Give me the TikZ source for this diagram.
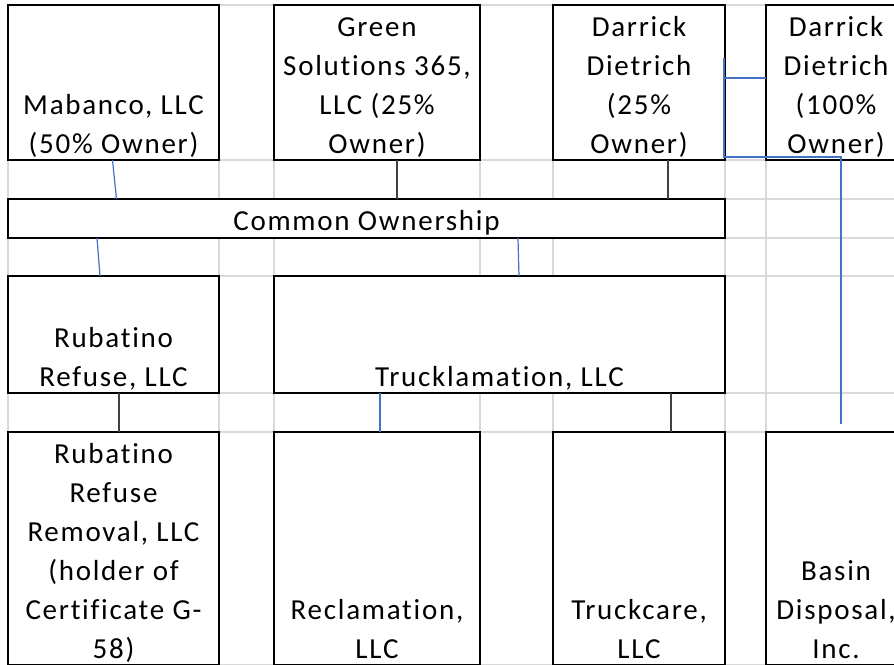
\documentclass[tikz,border=0pt]{standalone}
\usepackage{fontspec}
\setmainfont{Carlito}[LetterSpace=6,Ligatures={NoCommon}]
\usetikzlibrary{positioning}
\definecolor{gridgray}{RGB}{217,217,217}
\definecolor{xlblue}{RGB}{68,114,196}
\definecolor{xldark}{RGB}{64,64,64}
\newcommand\stk[1]{\begin{tabular}[b]{@{}c@{}}#1\end{tabular}}

\begin{document}
\begin{tikzpicture}[x=1pt, y=-1pt, node distance=55pt,
  box/.style = {draw, line width=2.2pt, fill=white, inner sep=0pt, outer sep=0pt, anchor=north west, text depth=7pt, font=\fontsize{29pt}{39pt}\selectfont},
  grid/.style = {draw=gridgray, line width=1.8pt},
  bline/.style = {draw=xlblue, line width=1.2pt},
  dline/.style = {draw=xldark, line width=1.2pt}]
    \useasboundingbox (0,0) rectangle (894,664);

    % sheet grid
    \foreach \x in {8,219,274,480,553,725,766}
        \draw[grid] (\x,5) -- (\x,665);
    \foreach \y in {5,160,199,238,276,393,432,665}
        \draw[grid] (8,\y) -- (894,\y);

    % owners
    \node[box, minimum width=211pt, text height=148pt] (mab) at (8,5) {\stk{Mabanco, LLC\\(50\% Owner)}};
    \node[box, minimum width=206pt, text height=148pt, right=55pt of mab] (gs) {\stk{Green\\Solutions 365,\\LLC (25\%\\Owner)}};
    \node[box, minimum width=172pt, text height=148pt, right=73pt of gs] (d25) {\stk{Darrick\\Dietrich\\(25\%\\Owner)}};
    \node[box, minimum width=140pt, text height=148pt, right=41pt of d25] (d100) {\stk{Darrick\\Dietrich\\(100\%\\Owner)}};

    \node[box, minimum width=717pt, text height=31pt, text depth=8pt] (own) at (8,199) {Common Ownership};

    % companies
    \node[box, minimum width=211pt, text height=110pt] (rr) at (8,276) {\stk{Rubatino\\Refuse, LLC}};
    \node[box, minimum width=451pt, text height=110pt, right=55pt of rr] (tk) {Trucklamation, LLC};

    \node[box, minimum width=211pt, text height=226pt] (rrr) at (8,432) {\stk{Rubatino\\Refuse\\Removal, LLC\\(holder of\\Certificate G-\\58)}};
    \node[box, minimum width=206pt, text height=226pt, right=55pt of rrr] (rec) {\stk{Reclamation,\\LLC}};
    \node[box, minimum width=172pt, text height=226pt, right=73pt of rec] (tc) {\stk{Truckcare,\\LLC}};
    \node[box, minimum width=140pt, text height=226pt, right=41pt of tc] (bas) {\stk{Basin\\Disposal,\\Inc.}};

    % ownership links
    \draw[bline] ([xshift=104.5pt]mab.south west) -- ([xshift=108.5pt]own.north west);
    \draw[dline] ([xshift=20pt]gs.south) -- ([xshift=20pt]gs.south |- own.north);
    \draw[dline] ([xshift=29pt]d25.south) -- ([xshift=29pt]d25.south |- own.north);
    \draw[bline] ([xshift=89pt]own.south west) -- ([xshift=92pt]rr.north west);
    \draw[bline] ([xshift=510pt]own.south west) -- ([xshift=245pt]tk.north west);
    \draw[dline] ([xshift=5.5pt]rr.south) -- ([xshift=5.5pt]rrr.north);
    \draw[bline] ([xshift=3pt]rec.north |- tk.south) -- ([xshift=3pt]rec.north);
    \draw[dline] ([xshift=32pt]tc.north |- tk.south) -- ([xshift=32pt]tc.north);

    % elbow to basin
    \coordinate (stub) at (724,58);
    \coordinate (hub) at (724,157);
    \draw[bline] ([yshift=4.5pt]d100.west) -- (stub |- 0,78);
    \draw[bline] (stub) -- (hub) -| ([xshift=75pt,yshift=8pt]bas.north west);
\end{tikzpicture}
\end{document}
